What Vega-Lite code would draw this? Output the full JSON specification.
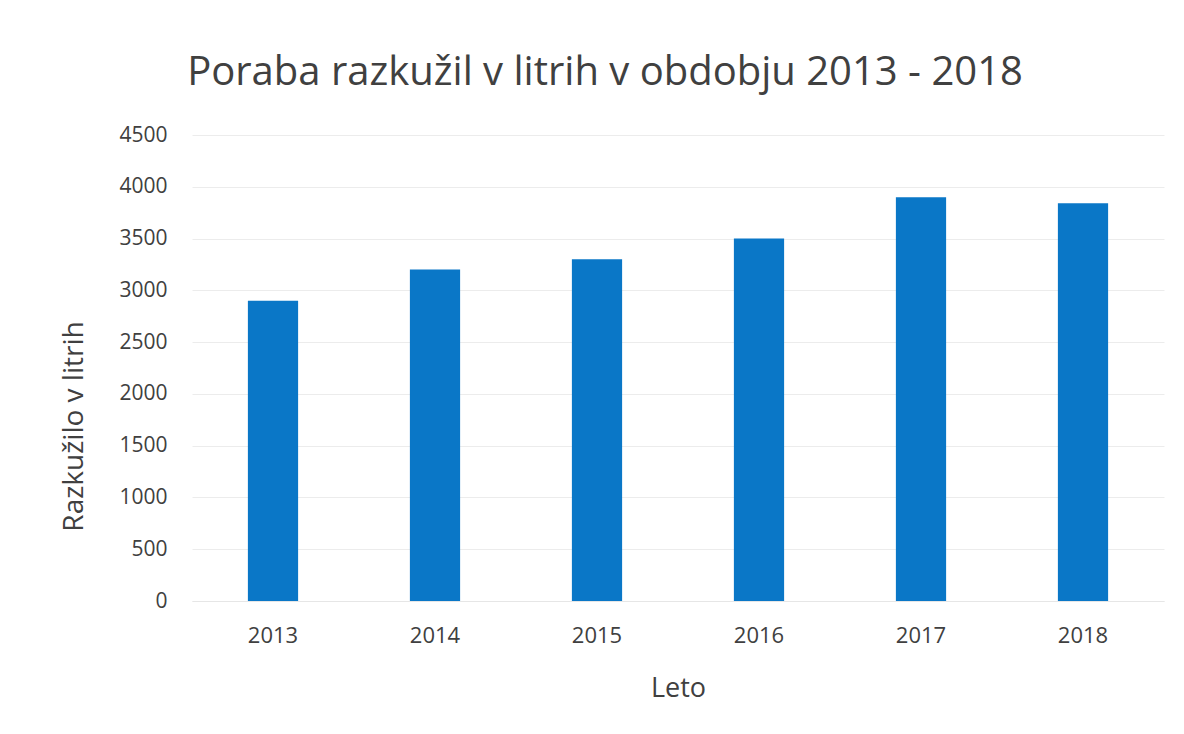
{
  "$schema": "https://vega.github.io/schema/vega-lite/v6.json",
  "width": 972,
  "height": 466,
  "autosize": "none",
  "padding": {"left": 192, "top": 135, "right": 20, "bottom": 133},
  "background": "white",
  "title": {
    "text": "Poraba razkužil v litrih v obdobju 2013 - 2018",
    "font": "Open Sans",
    "fontSize": 40,
    "fontWeight": "normal",
    "color": "#404040",
    "anchor": "middle",
    "dx": -73,
    "offset": 31
  },
  "data": {
    "values": [
      {"leto": "2013", "litri": 2900},
      {"leto": "2014", "litri": 3200},
      {"leto": "2015", "litri": 3300},
      {"leto": "2016", "litri": 3500},
      {"leto": "2017", "litri": 3900},
      {"leto": "2018", "litri": 3840}
    ]
  },
  "mark": {"type": "bar", "color": "#0a77c7"},
  "encoding": {
    "x": {
      "field": "leto",
      "type": "ordinal",
      "scale": {"paddingInner": 0.69, "paddingOuter": 0.345},
      "axis": {
        "title": "Leto",
        "titleFont": "Open Sans",
        "titleFontSize": 27,
        "titleFontWeight": "normal",
        "titleColor": "#404040",
        "titlePadding": 29,
        "labelFont": "Open Sans",
        "labelFontSize": 22,
        "labelColor": "#404040",
        "labelAngle": 0,
        "labelPadding": 24,
        "ticks": false,
        "domainColor": "#e6e6e6"
      }
    },
    "y": {
      "field": "litri",
      "type": "quantitative",
      "scale": {"domain": [0, 4500]},
      "axis": {
        "title": "Razkužilo v litrih",
        "titleFont": "Open Sans",
        "titleFontSize": 28,
        "titleFontWeight": "normal",
        "titleColor": "#404040",
        "titlePadding": 30,
        "titleY": 291,
        "labelFont": "Open Sans",
        "labelFontSize": 21,
        "labelColor": "#404040",
        "labelPadding": 25,
        "labelOverlap": false,
        "values": [0, 500, 1000, 1500, 2000, 2500, 3000, 3500, 4000, 4500],
        "ticks": false,
        "domain": false,
        "gridColor": "#ececec",
        "format": "d"
      }
    }
  },
  "config": {"view": {"stroke": null}}
}
